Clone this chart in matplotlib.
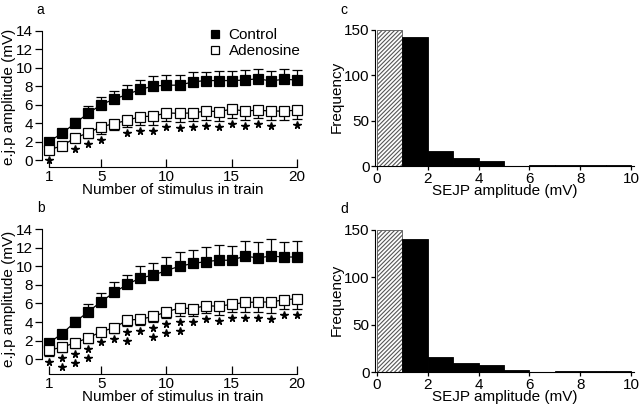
import matplotlib
matplotlib.use('Agg')
import matplotlib.pyplot as plt
import numpy as np

plt.rcParams['font.family'] = ['Liberation Sans', 'DejaVu Sans']
plt.rcParams['hatch.color'] = '#111111'
plt.rcParams['hatch.linewidth'] = 0.8

stim = np.arange(1, 21)

# panel a
ctrl_a = [2.0, 2.9, 4.0, 5.05, 6.0, 6.6, 7.1, 7.65, 8.0, 8.1, 8.1, 8.45, 8.6, 8.6, 8.6, 8.65, 8.8, 8.55, 8.75, 8.65]
ctrl_a_sem = [0.2, 0.3, 0.5, 0.75, 0.85, 0.9, 1.0, 1.0, 1.1, 1.1, 1.1, 1.05, 0.95, 1.0, 1.0, 1.05, 1.05, 1.05, 1.1, 1.1]
ade_a = [1.1, 1.55, 2.4, 2.95, 3.6, 3.95, 4.3, 4.7, 4.75, 5.1, 5.05, 5.1, 5.3, 5.25, 5.5, 5.3, 5.4, 5.3, 5.3, 5.4]
ade_a_sem = [0.45, 0.5, 0.5, 0.6, 0.75, 0.75, 0.75, 0.95, 0.95, 0.85, 0.9, 0.85, 0.95, 1.0, 1.0, 0.95, 0.85, 0.95, 0.95, 0.95]
stars_a = [1, 0, 1, 1, 1, 0, 1, 1, 1, 1, 1, 1, 1, 1, 1, 1, 1, 1, 0, 1]

# panel b
ctrl_b = [1.75, 2.75, 4.0, 5.1, 6.2, 7.2, 8.05, 8.75, 9.05, 9.55, 10.0, 10.3, 10.5, 10.65, 10.65, 11.1, 10.9, 11.1, 11.0, 11.0]
ctrl_b_sem = [0.2, 0.3, 0.5, 0.8, 0.9, 1.1, 1.05, 1.3, 1.35, 1.45, 1.55, 1.45, 1.6, 1.65, 1.55, 1.65, 1.75, 1.8, 1.65, 1.75]
ade_b = [0.95, 1.3, 1.75, 2.3, 2.95, 3.4, 4.2, 4.3, 4.6, 5.1, 5.5, 5.45, 5.75, 5.7, 5.9, 6.1, 6.15, 6.15, 6.4, 6.5]
ade_b_sem = [0.6, 0.5, 0.55, 0.55, 0.5, 0.6, 0.6, 0.65, 0.65, 0.7, 0.85, 0.85, 0.8, 0.95, 0.85, 1.0, 1.1, 1.15, 1.0, 1.1]
stars_b = [1, 2, 2, 2, 1, 1, 2, 1, 2, 2, 2, 1, 1, 1, 1, 1, 1, 1, 1, 1]

# histograms c, d (1 mV bins, 0-10 mV)
bin_edges = np.arange(0, 11)
freq_c = [150, 142, 16, 9, 6, 0.4, 1, 1, 1, 1]
freq_d = [150, 140, 16, 9, 7, 2.5, 0.5, 1, 1, 1]

fig = plt.figure(figsize=(6.4, 4.11), dpi=100)


def train_panel(rect, ctrl, ctrl_sem, ade, ade_sem, stars, ybottom, letter, legend=False):
    ax = fig.add_axes(rect)
    ax.errorbar(stim, ctrl, yerr=[np.zeros(20), ctrl_sem], fmt='none', ecolor='k',
                elinewidth=0.9, capsize=3.5, capthick=0.9, zorder=2)
    ax.errorbar(stim, ade, yerr=[ade_sem, np.zeros(20)], fmt='none', ecolor='k',
                elinewidth=0.9, capsize=3.5, capthick=0.9, zorder=2)
    ax.plot(stim, ctrl, color='k', lw=0.9, zorder=3)
    ax.plot(stim, ade, color='k', lw=0.9, zorder=3)
    ax.plot(stim, ctrl, 's', ms=7, mfc='k', mec='k', mew=0.9, ls='none',
            label='Control', zorder=4)
    ax.plot(stim, ade, 's', ms=7, mfc='white', mec='k', mew=0.9, ls='none',
            label='Adenosine', zorder=4)
    # significance stars below adenosine error bars
    for xi, yi, si, ns in zip(stim, ade, ade_sem, stars):
        for k in range(ns):
            ax.plot(xi, yi - si - 0.65 - 0.95 * k, marker='*', color='k', ms=5.5, ls='none')
    ax.set_xlim(0.46, 20.5)
    ax.set_ylim(ybottom, 14.5)
    ax.spines['top'].set_visible(False)
    ax.spines['right'].set_visible(False)
    ax.spines['left'].set_bounds(0, 14)
    ax.spines['bottom'].set_bounds(1, 20)
    ax.set_yticks(range(0, 15, 2))
    ax.set_xticks([1, 5, 10, 15, 20])
    ax.tick_params(axis='y', direction='out', length=5, width=0.9, labelsize=11, pad=1.5)
    ax.tick_params(axis='x', direction='in', length=6, width=0.9, labelsize=11, pad=2.5)
    ax.set_xlabel('Number of stimulus in train', fontsize=11, labelpad=-1)
    ax.set_ylabel('e.j.p amplitude (mV)', fontsize=11, labelpad=0)
    ax.text(-0.02, 1.11, letter, transform=ax.transAxes, fontsize=10, va='center')
    if legend:
        ax.legend(loc='upper left', bbox_to_anchor=(0.62, 1.03), frameon=False, fontsize=11,
                  handlelength=0.6, handletextpad=0.6, labelspacing=0.15, borderaxespad=0,
                  markerscale=0.8)
    return ax


def hist_panel(rect, freq, letter):
    ax = fig.add_axes(rect)
    widths = np.diff(bin_edges)
    ax.bar(bin_edges[:1], freq[:1], width=widths[:1], align='edge', color='white',
           edgecolor='#555555', hatch='////////', lw=0.6)
    ax.bar(bin_edges[1:-1], freq[1:], width=widths[1:], align='edge', color='k',
           edgecolor='k', lw=0.6)
    ax.set_xlim(-0.08, 10.1)
    ax.set_ylim(0, 152)
    ax.spines['top'].set_visible(False)
    ax.spines['right'].set_visible(False)
    ax.spines['left'].set_bounds(0, 150)
    ax.set_yticks([0, 50, 100, 150])
    ax.set_xticks([0, 2, 4, 6, 8, 10])
    ax.tick_params(axis='both', direction='out', length=3, width=0.9, labelsize=11, pad=1)
    ax.set_xlabel('SEJP amplitude (mV)', fontsize=11, labelpad=-1)
    ax.set_ylabel('Frequency', fontsize=11, labelpad=0)
    ax.text(-0.135, 1.13, letter, transform=ax.transAxes, fontsize=10, va='center')
    return ax


train_panel([42 / 640, 1 - 167 / 411, 261.5 / 640, 141 / 411],
            ctrl_a, ctrl_a_sem, ade_a, ade_a_sem, stars_a, -0.75, 'a', legend=True)
train_panel([42 / 640, 1 - 374 / 411, 261.5 / 640, 149.5 / 411],
            ctrl_b, ctrl_b_sem, ade_b, ade_b_sem, stars_b, -1.6, 'b')
hist_panel([375 / 640, 1 - 166 / 411, 258.5 / 640, 138 / 411], freq_c, 'c')
hist_panel([375 / 640, 1 - 372 / 411, 258.5 / 640, 144 / 411], freq_d, 'd')

fig.savefig('out.png', dpi=100)
